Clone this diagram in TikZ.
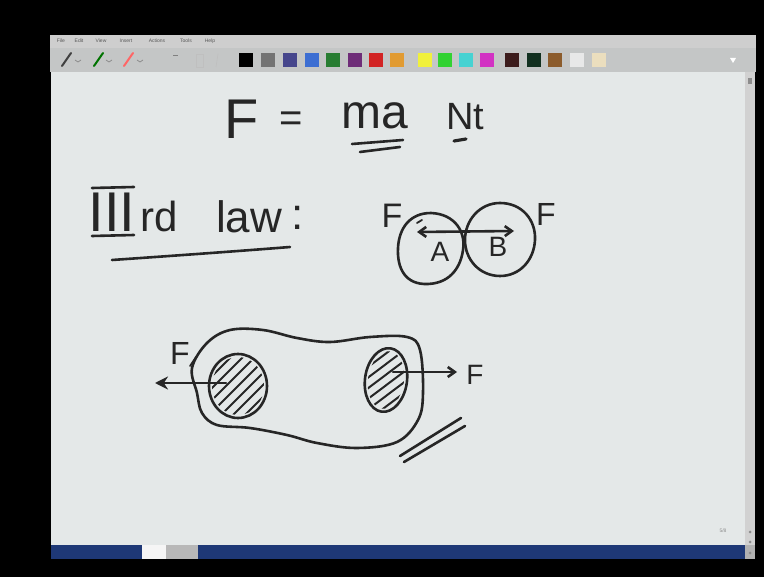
\documentclass[tikz,border=0pt]{standalone}
\usepackage{fontspec}
\setmainfont{Liberation Sans}
\usetikzlibrary{arrows.meta}
\definecolor{canvas}{RGB}{228,232,232}
\definecolor{inkc}{RGB}{38,38,38}
\definecolor{menubar}{RGB}{206,206,206}
\definecolor{toolbar}{RGB}{196,198,198}
\definecolor{statusblue}{RGB}{30,56,118}
\begin{document}
\begin{tikzpicture}[x=1pt,y=-1pt,
  ink/.style={draw=inkc, line width=2.6pt, line cap=round, line join=round},
  hatch/.style={draw=inkc, line width=2pt, line cap=round},
  hw/.style={inner sep=0pt, text=inkc},
  menu/.style={inner sep=0pt, text=black!65, font=\fontsize{5}{5}\selectfont},
  tip/.style={-{Straight Barb[length=7pt,width=10pt]}}]
\useasboundingbox (0,0) rectangle (764,577);
% screen surroundings
\fill[black] (0,0) rectangle (764,577);
% window
\fill[menubar] (50,35) rectangle (756,48);
\fill[toolbar] (50,48) rectangle (756,72);
\fill[canvas] (51,72) rectangle (745,545);
\fill[black!18] (745,72) rectangle (755,545);
\fill[statusblue] (51,545) rectangle (142,559);
\fill[white!92!gray] (142,545) rectangle (166,559);
\fill[black!28] (166,545) rectangle (198,559);
\fill[statusblue] (198,545) rectangle (745,559);
\fill[black!30] (745,545) rectangle (755,559);
% menu items
\node[menu] (mFile) at (61,41) {File};
\node[menu] (mEdit) at (79,41) {Edit};
\node[menu] (mView) at (101,41) {View};
\node[menu] (mInsert) at (126,41) {Insert};
\node[menu] (mActions) at (157,41) {Actions};
\node[menu] (mTools) at (186,41) {Tools};
\node[menu] (mHelp) at (210,41) {Help};
% toolbar pens
\draw[black!75, line width=2pt, line cap=round] (62,66) -- (71,53);
\draw[black!45, line width=0.8pt] (75,60) -- (78,62) -- (81,60);
\draw[green!45!black, line width=2pt, line cap=round] (94,66) -- (103,53);
\draw[black!45, line width=0.8pt] (106,60) -- (109,62) -- (112,60);
\draw[red!60!white, line width=2pt, line cap=round] (124,66) -- (133,53);
\draw[black!45, line width=0.8pt] (137,60) -- (140,62) -- (143,60);
\draw[black!50, line width=0.8pt] (173,55) -- (178,55);
\draw[black!25, line width=0.6pt] (196,54) rectangle (203,67);
\draw[black!25, line width=0.6pt] (218,54) -- (216,67);
% colour swatches
\foreach \cx/\cc in {246/{black}, 268/{black!55}, 290/{rgb,255:red,70;green,70;blue,140},
  312/{rgb,255:red,60;green,110;blue,210}, 333/{rgb,255:red,40;green,125;blue,50},
  355/{rgb,255:red,110;green,45;blue,120}, 376/{rgb,255:red,210;green,35;blue,35},
  397/{rgb,255:red,225;green,155;blue,50}, 425/{rgb,255:red,240;green,240;blue,60},
  445/{rgb,255:red,50;green,210;blue,50}, 466/{rgb,255:red,70;green,210;blue,210},
  487/{rgb,255:red,210;green,50;blue,195}, 512/{rgb,255:red,60;green,28;blue,28},
  534/{rgb,255:red,18;green,48;blue,32}, 555/{rgb,255:red,140;green,92;blue,45},
  577/{rgb,255:red,232;green,232;blue,232}, 599/{rgb,255:red,235;green,222;blue,190}}
  {\fill[fill=\cc] (\cx-7,53) rectangle (\cx+7,67);}
\fill[white] (730,58) -- (736,58) -- (733,63) -- cycle;
% scrollbar marks
\fill[black!45] (748,78) rectangle (752,84);
\fill[black!45] (750,532) circle (1.5);
\fill[black!45] (750,542) circle (1.5);
\fill[black!45] (750,553) circle (1.5);
\node[menu, text=black!45] (pageno) at (723,531) {5/8};

% ---------- F = ma Nt ----------
\node[hw, font=\fontsize{56}{56}\selectfont] (eqF) at (242,119) {F};
\node[hw, font=\fontsize{40}{40}\selectfont] (eqEq) at (291,122) {=};
\node[hw, font=\fontsize{48}{48}\selectfont] (eqMa) at (375,116) {ma};
\node[hw, font=\fontsize{38}{38}\selectfont] (eqNt) at (465,117) {Nt};
\draw[ink] (352,144) -- (403,140);
\draw[ink] (360,152) -- (400,147);
\draw[ink, line width=3.2pt] (454,141) -- (466,139);

% ---------- IIIrd law: ----------
\node[hw, font=\fontsize{56}{56}\selectfont] (three) at (112,212) {III};
\draw[ink] (92,188) -- (134,187);
\draw[ink] (92,236) -- (134,235);
\node[hw, font=\fontsize{42}{42}\selectfont, anchor=base west] (rd) at (140,232) {rd};
\node[hw, font=\fontsize{44}{44}\selectfont, anchor=base west] (law) at (216,233) {law};
\node[hw, font=\fontsize{44}{44}\selectfont, anchor=base west] (colon) at (291,230) {:};
\draw[ink] (112,260) .. controls (170,256) and (240,251) .. (290,247);

% ---------- two bodies A and B ----------
\draw[ink] (431,213) .. controls (455,214) and (466,232) .. (463,250)
  .. controls (461,265) and (452,283) .. (428,284)
  .. controls (405,285) and (397,268) .. (398,248)
  .. controls (399,228) and (410,213) .. (431,213) -- cycle;
\draw[ink] (500,203) .. controls (522,203) and (536,220) .. (535,240)
  .. controls (534,260) and (520,276) .. (500,276)
  .. controls (480,276) and (465,260) .. (465,240)
  .. controls (465,220) and (480,203) .. (500,203) -- cycle;
\coordinate (abL) at (417,232);
\coordinate (abR) at (514,231);
\draw[ink, {Straight Barb[length=7pt,width=10pt]}-{Straight Barb[length=7pt,width=10pt]}] (abL) -- (abR);
\draw[ink, line width=1.8pt] (417,223) -- (422,220);
\node[hw, font=\fontsize{28}{28}\selectfont] (labA) at (440,252) {A};
\node[hw, font=\fontsize{28}{28}\selectfont] (labB) at (498,247) {B};
\node[hw, font=\fontsize{34}{34}\selectfont] (fA) at (392,216) {F};
\node[hw, font=\fontsize{32}{32}\selectfont] (fB) at (546,214) {F};

% ---------- extended body ----------
\draw[ink] plot[smooth cycle, tension=0.6] coordinates {
  (192,368) (207,343) (230,330) (263,330) (297,338) (330,342) (370,337)
  (407,337) (420,350) (423,393) (418,420) (397,442) (357,448) (317,443)
  (287,435) (250,428) (217,425) (202,413) (197,393)};
% left hatched region
\begin{scope}
  \clip (238,386) ellipse [x radius=26, y radius=29];
  \foreach \k in {-48,-36,...,48}
    \draw[hatch] (238+\k-45,386+45) -- (238+\k+45,386-45);
\end{scope}
\draw[ink] (238,386) ellipse [x radius=29, y radius=32];
% right hatched region
\begin{scope}[rotate around={-8:(386,380)}]
  \clip (386,380) ellipse [x radius=18, y radius=29];
  \foreach \k in {-42,-30,...,42}
    \draw[hatch] (386+\k-45,380+45) -- (386+\k+45,380-45);
\end{scope}
\draw[ink, rotate around={-8:(386,380)}] (386,380) ellipse [x radius=21, y radius=32];
% forces
\coordinate (lo1) at (226,383);
\coordinate (lo2) at (155,383);
\draw[ink, -{Stealth[length=13pt,width=13pt]}] (lo1) -- (lo2);
\draw[ink, line width=1.8pt] (190,366) -- (196,357);
\node[hw, font=\fontsize{32}{32}\selectfont] (fL) at (180,353) {F};
\coordinate (ro1) at (393,372);
\coordinate (ro2) at (457,372);
\draw[ink, tip] (ro1) -- (ro2);
\node[hw, font=\fontsize{28}{28}\selectfont] (fR) at (475,375) {F};
% double stroke
\draw[ink] (400,456) -- (461,418);
\draw[ink] (404,462) -- (465,426);
\end{tikzpicture}
\end{document}
